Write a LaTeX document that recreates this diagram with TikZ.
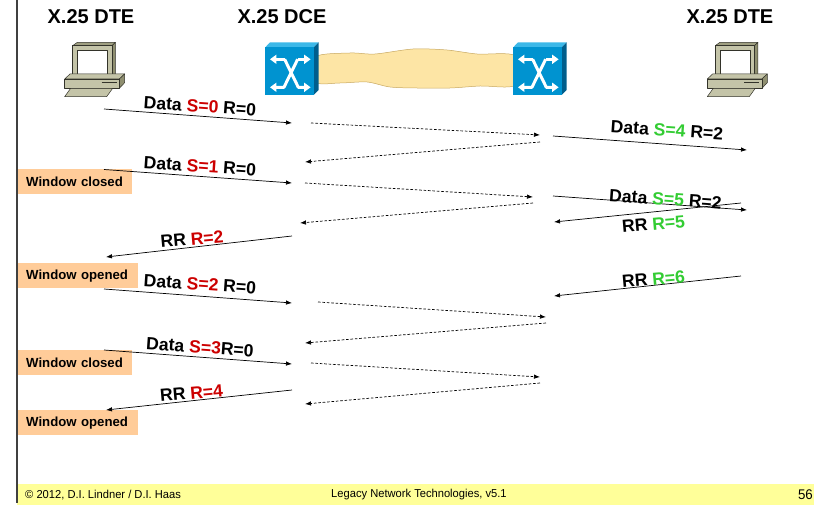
\documentclass[tikz,border=0pt]{standalone}
\usepackage{fontspec}
\setmainfont{Liberation Sans}
\usetikzlibrary{arrows.meta}
\definecolor{redS}{HTML}{CC0000}
\definecolor{greenS}{HTML}{33CC33}
\definecolor{orangeBox}{HTML}{FFCC99}
\definecolor{footY}{HTML}{FFFF99}
\definecolor{pcLight}{HTML}{C4C4A8}
\definecolor{pcDark}{HTML}{8F8F70}
\definecolor{pcLine}{HTML}{33332A}
\definecolor{swFront}{HTML}{0093D0}
\definecolor{swTop}{HTML}{3CB8E8}
\definecolor{swSide}{HTML}{005E8C}
\definecolor{cloudF}{HTML}{FDE5A5}
\definecolor{cloudL}{HTML}{C8A860}
\newcommand{\Rd}[1]{\textcolor{redS}{#1}}
\newcommand{\Gn}[1]{\textcolor{greenS}{#1}}
\tikzset{
  x=1pt,y=-1pt,
  msg/.style={-{Latex[length=6pt,width=4.5pt]},line width=0.7pt,black},
  msgd/.style={msg,dash pattern=on 2.6pt off 1.8pt},
  title/.style={font=\fontsize{20}{22}\selectfont\bfseries,inner sep=0pt},
  lab/.style={font=\fontsize{17.6}{19}\selectfont\bfseries,inner sep=0pt},
  win/.style={fill=orangeBox,font=\fontsize{13.2}{15}\selectfont\bfseries,anchor=north west,inner sep=0pt,minimum height=25pt,align=left},
  foot/.style={font=\fontsize{11.5}{13}\selectfont,inner sep=0pt},
  pcpart/.style={draw=pcLine,line width=0.5pt,line join=round},
  pics/pcicon/.style={code={
    \begin{scope}[x=0.3333pt,y=-0.3333pt]
      \path[pcpart,fill=pcDark!70!pcLight] (24,10)--(38,0)--(152,0)--(142,10)--cycle;
      \path[pcpart,fill=pcDark] (142,10)--(152,0)--(152,95)--(142,105)--cycle;
      \path[pcpart,fill=pcLight] (24,10) rectangle (142,105);
      \path[pcpart,fill=white] (38,25) rectangle (128,95);
      \path[pcpart,fill=pcLight] (0,110)--(16,95)--(180,95)--(164,110)--cycle;
      \path[pcpart,fill=pcDark] (164,110)--(180,95)--(180,121)--(164,138)--cycle;
      \path[pcpart,fill=pcLight] (0,110) rectangle (164,138);
      \path[pcpart,fill=pcLight] (0,163)--(126,163)--(144,138)--(18,138)--cycle;
      \draw[line width=0.9pt,pcLine] (111,121)--(156,121);
    \end{scope}}},
  pics/swicon/.style={code={
    \begin{scope}[x=0.3333pt,y=-0.3333pt]
      \fill[swTop] (0,15)--(14,0)--(160,0)--(146,15)--cycle;
      \fill[swSide] (146,15)--(160,0)--(160,143)--(146,157)--cycle;
      \fill[swFront] (0,15) rectangle (146,157);
      \draw[white,line width=3pt,line join=round,-{Triangle[length=6.5pt,width=9pt]}] (58,51)--(99,135)--(136,135);
      \draw[white,line width=3pt,line join=round,-{Triangle[length=6.5pt,width=9pt]}] (97,51)--(56,135)--(14,135);
      \draw[white,line width=3pt,-{Triangle[length=6.5pt,width=9pt]}] (58,51)--(14,51);
      \draw[white,line width=3pt,-{Triangle[length=6.5pt,width=9pt]}] (97,51)--(136,51);
    \end{scope}}}
}
\begin{document}
\begin{tikzpicture}
\useasboundingbox (0,0) rectangle (814,505);
% frame and footer
\fill[footY] (17,484) rectangle (814,505);
\draw[line width=1.3pt,black!75] (17,0)--(17,503);
\node[foot,anchor=west,xscale=0.97] (fa) at (25,495) {© 2012, D.I. Lindner / D.I. Haas};
\node[foot,anchor=west,xscale=0.97] (fc) at (331,495) {Legacy Network Technologies, v5.1};
\node[anchor=east,inner sep=0pt,font=\fontsize{14}{16}\selectfont,xscale=0.95] (fd) at (813,495) {56};
% titles
\node[title] (t1) at (91,17) {X.25 DTE};
\node[title] (t2) at (282,17) {X.25 DCE};
\node[title] (t3) at (730,17) {X.25 DTE};
% cloud
\draw[cloudL,fill=cloudF,line width=0.5pt,smooth cycle,tension=0.5] plot coordinates {(315,57)(350,53)(375,54)(413,49)(447,50)(477,54)(516,56)(516,85)(480,86)(450,88)(417,88)(390,87)(367,82)(340,83)(315,82)};
% icons
\pic at (64.7,42.3) {pcicon};
\pic at (707.3,42.3) {pcicon};
\pic at (265.3,42.3) {swicon};
\pic at (513.3,42.3) {swicon};
% connector ends
\foreach \n/\x/\y in {
 a1/104/109,a2/292/123,b1/311/123,b2/540/135,c1/540/142,c2/305/162,d1/553/136,d2/747/150,
 e1/104/169.5,e2/292/183,f1/305/183,f2/533/197,g1/533/203,g2/300/223,h1/553/196,h2/747/210,
 i1/741/203,i2/554/222,j1/292/236,j2/106/257,k1/104/289,k2/292/303,l1/318/302,l2/546/317,
 m1/546/323,m2/305/343,n1/741/276,n2/554/296,o1/104/350,o2/292/364,p1/311/363,p2/540/377,
 q1/540/383,q2/305/404,r1/292/390,r2/106/410}
 {\coordinate (\n) at (\x,\y);}
% window boxes
\node[win,text width=114pt] (w1) at (18,169) {\hspace*{8pt}Window closed};
\node[win,text width=120pt] (w2) at (18,263) {\hspace*{8pt}Window opened};
\node[win,text width=114pt] (w3) at (18,350) {\hspace*{8pt}Window closed};
\node[win,text width=120pt] (w4) at (18,410) {\hspace*{8pt}Window opened};
% connectors
\draw[msg] (a1)--(a2);
\draw[msgd] (b1)--(b2);
\draw[msgd] (c1)--(c2);
\draw[msg] (d1)--(d2);
\draw[msg] (e1)--(e2);
\draw[msgd] (f1)--(f2);
\draw[msgd] (g1)--(g2);
\draw[msg] (h1)--(h2);
\draw[msg] (i1)--(i2);
\draw[msg] (j1)--(j2);
\draw[msg] (k1)--(k2);
\draw[msgd] (l1)--(l2);
\draw[msgd] (m1)--(m2);
\draw[msg] (n1)--(n2);
\draw[msg] (o1)--(o2);
\draw[msgd] (p1)--(p2);
\draw[msgd] (q1)--(q2);
\draw[msg] (r1)--(r2);
% labels
\node[lab,rotate=-4] (l1a) at (200,106) {Data \Rd{S=0} R=0};
\node[lab,rotate=-4] (l2a) at (667,130) {Data \Gn{S=4} R=2};
\node[lab,rotate=-4] (l3a) at (200,166) {Data \Rd{S=1} R=0};
\node[lab,rotate=-4] (l4a) at (665.5,199) {Data \Gn{S=5} R=2};
\node[lab,rotate=5] (l5a) at (653.5,224) {RR \Gn{R=5}};
\node[lab,rotate=5] (l6a) at (192,239) {RR \Rd{R=2}};
\node[lab,rotate=-4] (l7a) at (200,284) {Data \Rd{S=2} R=0};
\node[lab,rotate=5] (l8a) at (653.5,279) {RR \Gn{R=6}};
\node[lab,rotate=-4] (l9a) at (200,347) {Data \Rd{S=3}R=0};
\node[lab,rotate=5] (l10a) at (191.5,393) {RR \Rd{R=4}};
\end{tikzpicture}
\end{document}
